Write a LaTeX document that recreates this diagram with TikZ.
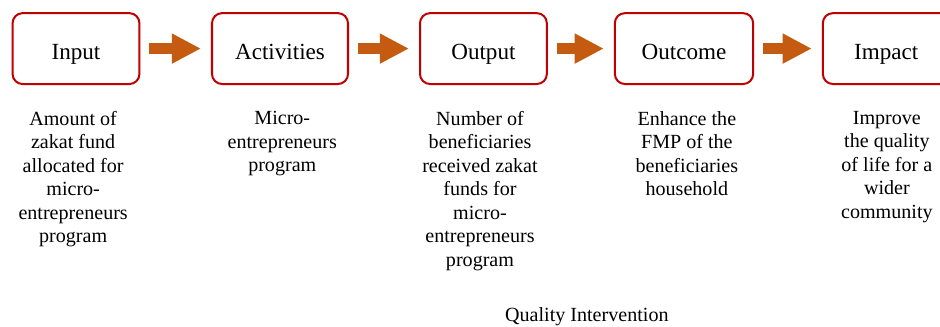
\documentclass[tikz,border=0pt]{standalone}
\usepackage{fontspec}
\setmainfont{Liberation Serif}
\usetikzlibrary{arrows.meta}
\definecolor{boxred}{HTML}{C00000}
\definecolor{flowbrown}{HTML}{C55A11}

\begin{document}
\begin{tikzpicture}[
  stage/.style={draw=boxred, line width=1pt, rounded corners=5pt, fill=white,
    minimum width=2.22cm, minimum height=1.24cm, text height=11pt, text depth=0pt,
    font=\fontsize{11.5}{13}\selectfont},
  desc/.style={anchor=north, align=center, inner sep=0pt, font=\fontsize{10}{11.7}\selectfont},
  flow/.style={flowbrown, line width=5.5pt, -{Triangle[length=14.5pt, width=14pt]},
    shorten <=4.5pt, shorten >=5pt}
]
  \clip (0,0) rectangle (16.45,-5.705);

  % Stages
  \node[stage] (input) at (1.33,-0.85) {Input};
  \node[stage, minimum width=2.38cm] (activities) at (4.90,-0.85) {Activities};
  \node[stage] (output) at (8.46,-0.85) {Output};
  \node[stage, minimum width=2.42cm] (outcome) at (11.97,-0.85) {Outcome};
  \node[stage] (impact) at (15.51,-0.85) {Impact};

  \draw[flow] (input) -- (activities);
  \draw[flow] (activities) -- (output);
  \draw[flow] (output) -- (outcome);
  \draw[flow] (outcome) -- (impact);

  % Descriptions
  \node[desc] (inputtxt) at (1.28,-1.94)
    {Amount of\\zakat fund\\allocated for\\micro-\\entrepreneurs\\program};
  \node[desc] (activitiestxt) at (4.94,-1.94)
    {Micro-\\entrepreneurs\\program};
  \node[desc] (outputtxt) at (8.40,-1.94)
    {Number of\\beneficiaries\\received zakat\\funds for\\micro-\\entrepreneurs\\program};
  \node[desc] (outcometxt) at (12.02,-1.94)
    {Enhance the\\FMP of the\\beneficiaries\\household};
  \node[desc] (impacttxt) at (15.52,-1.94)
    {Improve\\the quality\\of life for a\\wider\\community};

  \node[font=\fontsize{10}{12}\selectfont] (quality) at (10.27,-5.55) {Quality Intervention};
\end{tikzpicture}
\end{document}
